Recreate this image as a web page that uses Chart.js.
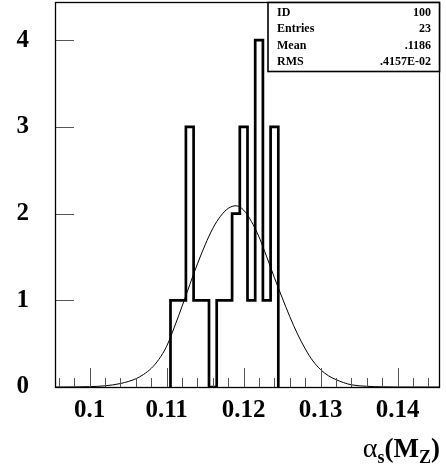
<!DOCTYPE html>
<html>
<head>
<meta charset="utf-8">
<script src="https://cdn.jsdelivr.net/npm/chart.js@4/dist/chart.umd.min.js"></script>
<style>
  html, body { margin: 0; padding: 0; background: #fff; }
  #wrap { width: 446px; height: 468px; }
</style>
</head>
<body>
<div id="wrap"><canvas id="c" width="446" height="468"></canvas></div>
<script>
// histogram: lower bin edges (width 0.001) and counts
const binEdges = [0.1105, 0.1115, 0.1125, 0.1135, 0.1145, 0.1155, 0.1165, 0.1175, 0.1185, 0.1195, 0.1205, 0.1215, 0.1225, 0.1235];
const binCounts = [1, 1, 3, 1, 1, 0, 1, 1, 2, 3, 1, 4, 1, 3];
const binWidth = 0.001;

// fitted gaussian
const fitX = [0.0955, 0.098, 0.100, 0.102, 0.104, 0.106, 0.107, 0.108, 0.109, 0.110, 0.111, 0.112, 0.113, 0.114, 0.115, 0.116, 0.117, 0.118, 0.119, 0.120, 0.121, 0.122, 0.123, 0.124, 0.125, 0.126, 0.127, 0.128, 0.129, 0.130, 0.131, 0.132, 0.133, 0.134, 0.136, 0.138, 0.140, 0.1455];
const fitY = [0, 0.001, 0.004, 0.014, 0.04, 0.095, 0.145, 0.215, 0.32, 0.47, 0.69, 0.93, 1.18, 1.42, 1.64, 1.83, 1.97, 2.06, 2.09, 2.04, 1.91, 1.73, 1.50, 1.26, 1.03, 0.81, 0.61, 0.44, 0.30, 0.20, 0.13, 0.085, 0.05, 0.025, 0.008, 0.002, 0, 0];

const xTicks = [0.1, 0.11, 0.12, 0.13, 0.14];
const xTickLabels = ['0.1', '0.11', '0.12', '0.13', '0.14'];
const yTicks = [0, 1, 2, 3, 4];
const yTickLabels = ['0', '1', '2', '3', '4'];

const statsLabels = ['ID', 'Entries', 'Mean', 'RMS'];
const statsValues = ['100', '23', '.1186', '.4157E-02'];

// step outline built from bins
const histPoints = [{ x: binEdges[0], y: 0 }];
binEdges.forEach((e, i) => histPoints.push({ x: e, y: binCounts[i] }));
histPoints.push({ x: binEdges[binEdges.length - 1] + binWidth, y: 0 });

const fitPoints = fitX.map((x, i) => ({ x: x, y: fitY[i] }));

const serif = "'Liberation Serif', 'DejaVu Serif', serif";

// frame, inward tick marks, stats box, axis title
const pawDecor = {
    id: 'pawDecor',
    afterDraw(chart) {
        const ctx = chart.ctx;
        const a = chart.chartArea;
        const xs = chart.scales.x, ys = chart.scales.y;
        ctx.save();

        // ticks
        ctx.strokeStyle = '#555';
        ctx.lineWidth = 1;
        ctx.beginPath();
        yTicks.forEach(v => {
            const y = Math.round(ys.getPixelForValue(v)) + 0.5;
            ctx.moveTo(a.left, y); ctx.lineTo(a.left + 19, y);
        });
        for (let k = 48; k <= 145; k += 2) {
            const v = k / 1000;
            if (v < xs.min || v > xs.max) continue;
            const x = Math.round(xs.getPixelForValue(v)) + 0.5;
            const len = (k % 10 === 0) ? 19 : 9;
            ctx.moveTo(x, a.bottom); ctx.lineTo(x, a.bottom - len);
        }
        ctx.stroke();

        // frame
        ctx.strokeStyle = '#000';
        ctx.lineWidth = 1.3;
        ctx.strokeRect(a.left + 0.5, a.top + 0.5, a.right - a.left - 1, a.bottom - a.top);

        // stats box
        const bx = 268, by = 2.5, bw = a.right - 268 - 0.5, bh = 69;
        ctx.fillStyle = '#fff';
        ctx.fillRect(bx, by, bw, bh);
        ctx.lineWidth = 1.6;
        ctx.strokeRect(bx, by, bw, bh);
        ctx.fillStyle = '#000';
        ctx.font = 'bold 12px ' + serif;
        ctx.textBaseline = 'alphabetic';
        statsLabels.forEach((t, i) => {
            const y = 16 + i * 16.3;
            ctx.textAlign = 'left';
            ctx.fillText(t, 277, y);
            ctx.textAlign = 'right';
            ctx.fillText(statsValues[i], 431, y);
        });

        // axis title: alpha_s(M_Z)
        const parts = [
            { t: '\u03b1', f: '28px ' + serif, dy: 0 },
            { t: 's', f: 'bold 18px ' + serif, dy: 6 },
            { t: '(M', f: 'bold 27px ' + serif, dy: 0 },
            { t: 'Z', f: 'bold 18px ' + serif, dy: 6 },
            { t: ')', f: 'bold 27px ' + serif, dy: 0 }
        ];
        let total = 0;
        parts.forEach(p => { ctx.font = p.f; p.w = ctx.measureText(p.t).width; total += p.w; });
        let x = a.right - total;
        ctx.textAlign = 'left';
        parts.forEach(p => {
            ctx.font = p.f;
            ctx.fillText(p.t, x, 457 + p.dy);
            x += p.w;
        });
        ctx.restore();
    }
};

new Chart(document.getElementById('c'), {
    type: 'line',
    data: {
        datasets: [
            {
                data: histPoints,
                stepped: 'before',
                borderColor: '#000',
                borderWidth: 2.7,
                borderJoinStyle: 'miter',
                pointRadius: 0,
                fill: false
            },
            {
                data: fitPoints,
                borderColor: '#000',
                borderWidth: 1,
                cubicInterpolationMode: 'monotone',
                pointRadius: 0,
                fill: false
            }
        ]
    },
    options: {
        responsive: false,
        animation: false,
        layout: { padding: { top: 2, right: 6, left: 0, bottom: 0 } },
        plugins: { legend: { display: false }, tooltip: { enabled: false } },
        scales: {
            x: {
                type: 'linear',
                min: 0.0955,
                max: 0.1455,
                afterBuildTicks: (s) => { s.ticks = xTicks.map(v => ({ value: v })); },
                afterFit: (s) => { s.height = 81; s.paddingLeft = 0; s.paddingRight = 0; },
                grid: { display: false, drawTicks: false },
                border: { display: false },
                ticks: {
                    autoSkip: false,
                    maxRotation: 0,
                    padding: 9,
                    color: '#000',
                    font: { family: serif, size: 25, weight: 'bold' },
                    callback: (v, i) => xTickLabels[i]
                }
            },
            y: {
                min: 0,
                max: 4.44,
                afterBuildTicks: (s) => { s.ticks = yTicks.map(v => ({ value: v })); },
                afterFit: (s) => { s.width = 55; s.paddingTop = 0; s.paddingBottom = 0; },
                grid: { display: false, drawTicks: false },
                border: { display: false },
                ticks: {
                    padding: 26,
                    color: '#000',
                    font: { family: serif, size: 25, weight: 'bold' },
                    callback: (v, i) => yTickLabels[i]
                }
            }
        }
    },
    plugins: [pawDecor]
});
</script>
</body>
</html>
